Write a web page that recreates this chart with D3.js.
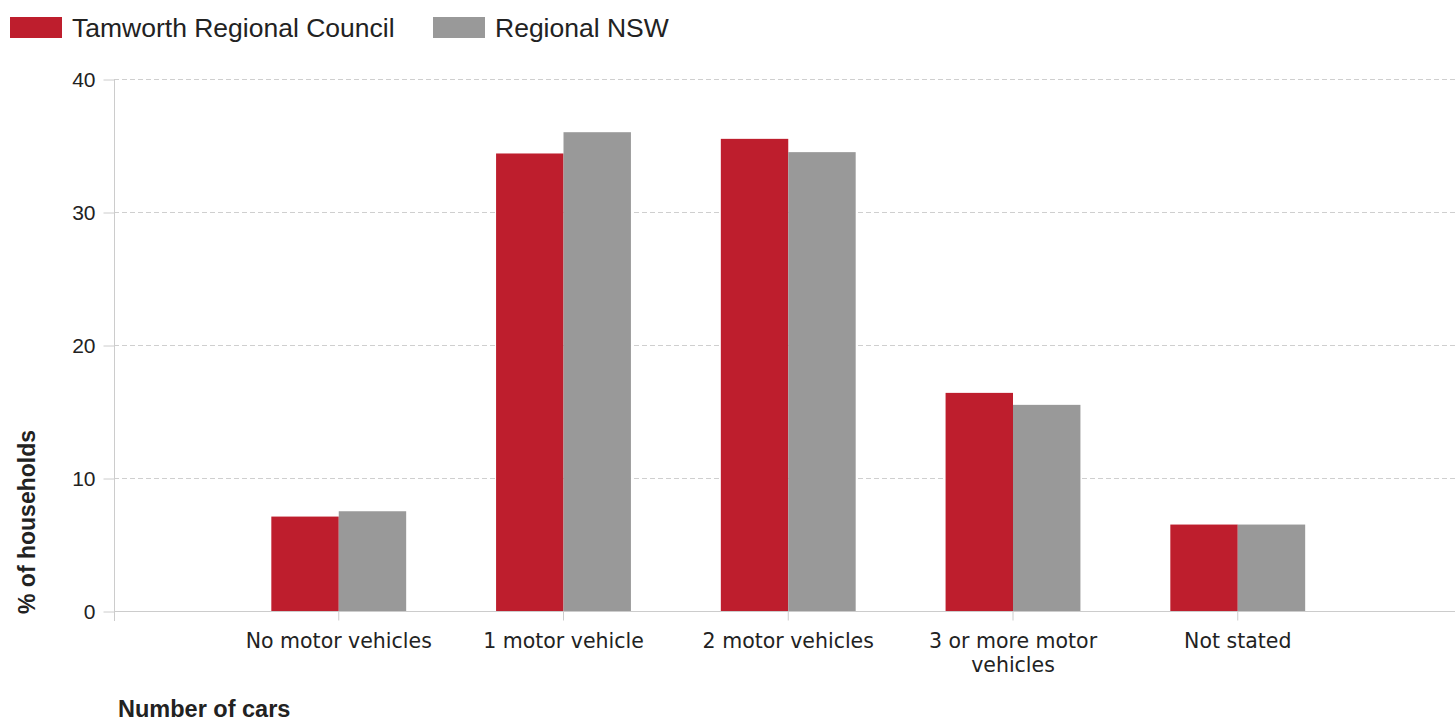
<!DOCTYPE html>
<html lang="en">
<head>
  <meta charset="UTF-8">
  <title>Number of cars per household</title>
  <script src="https://d3js.org/d3.v7.min.js"></script>
  <style>
    body { margin: 0; background: #fff; font-family: "Liberation Sans", Arial, sans-serif; }
    .tick-x text { font-family: "DejaVu Sans", Verdana, sans-serif; font-size: 20.5px; fill: #222; }
    .tick-y text { font-size: 21px; fill: #222; }
    .legend text { font-size: 26.5px; fill: #222; }
    .axis-title { font-weight: bold; fill: #222; }
  </style>
</head>
<body>
  <div id="chart"></div>
  <script>
    // data
    const categories = ["No motor vehicles", "1 motor vehicle", "2 motor vehicles", "3 or more motor vehicles", "Not stated"];
    const seriesNames = ["Tamworth Regional Council", "Regional NSW"];
    const tamworth = [7.1, 34.4, 35.5, 16.4, 6.5];
    const regionalNSW = [7.5, 36.0, 34.5, 15.5, 6.5];
    const yTicks = [0, 10, 20, 30, 40];
    const colors = ["#be1e2d", "#999999"];

    const W = 1455, H = 724;
    const plotLeft = 114, plotTop = 79, plotBottom = 611;
    const step = 224.75;

    const svg = d3.select("#chart").append("svg")
      .attr("width", W)
      .attr("height", H);

    // outer padding keeps one empty step either side of the groups
    const x = d3.scaleBand()
      .domain(categories)
      .range([plotLeft, plotLeft + step * 6])
      .paddingInner(0.4)
      .paddingOuter(0.7);

    const xSub = d3.scaleBand()
      .domain(seriesNames)
      .range([0, x.bandwidth()]);

    const y = d3.scaleLinear()
      .domain([0, 40])
      .range([plotBottom, plotTop]);

    // gridlines
    svg.append("g")
      .selectAll("line")
      .data(yTicks.filter(d => d > 0))
      .enter().append("line")
      .attr("x1", plotLeft)
      .attr("x2", W)
      .attr("y1", d => Math.round(y(d)) + 0.5)
      .attr("y2", d => Math.round(y(d)) + 0.5)
      .attr("stroke", "#cfcfcf")
      .attr("stroke-dasharray", "5,3");

    // y axis
    const yAxis = svg.append("g")
      .attr("class", "tick-y")
      .attr("transform", `translate(${plotLeft + 0.5},0.5)`)
      .call(d3.axisLeft(y).tickValues(yTicks).tickSize(11).tickPadding(8));
    yAxis.select(".domain").remove();
    yAxis.selectAll(".tick line").attr("stroke", "#cccccc");
    svg.append("line")
      .attr("x1", plotLeft + 0.5).attr("x2", plotLeft + 0.5)
      .attr("y1", plotTop).attr("y2", plotBottom + 10)
      .attr("stroke", "#cccccc");

    // bars
    const data = categories.map((c, i) => ({ cat: c, values: [tamworth[i], regionalNSW[i]] }));
    const groups = svg.append("g").selectAll("g")
      .data(data)
      .enter().append("g")
      .attr("transform", d => `translate(${x(d.cat)},0)`);
    groups.selectAll("rect")
      .data(d => d.values.map((v, j) => ({ name: seriesNames[j], v, j })))
      .enter().append("rect")
      .attr("x", d => xSub(d.name))
      .attr("width", xSub.bandwidth())
      .attr("y", d => y(d.v))
      .attr("height", d => y(0) - y(d.v))
      .attr("fill", d => colors[d.j]);

    // x axis
    const xAxis = svg.append("g")
      .attr("class", "tick-x")
      .attr("transform", `translate(0,${plotBottom + 0.5})`)
      .call(d3.axisBottom(x).tickSize(9).tickPadding(13).tickSizeOuter(0));
    xAxis.select(".domain")
      .attr("d", `M${plotLeft},0H${W}`)
      .attr("stroke", "#cccccc");
    xAxis.selectAll(".tick line").attr("stroke", "#cccccc");
    xAxis.selectAll(".tick text").each(function (d) {
      const t = d3.select(this);
      if (d === "3 or more motor vehicles") {
        const yy = t.attr("y");
        t.text(null);
        t.append("tspan").attr("x", 0).attr("y", yy).attr("dy", "0.71em").text("3 or more motor");
        t.append("tspan").attr("x", 0).attr("dy", "1.17em").text("vehicles");
        t.attr("dy", null);
      }
    });

    // axis titles
    svg.append("text")
      .attr("class", "axis-title")
      .attr("font-size", 23)
      .attr("transform", "translate(35,522) rotate(-90)")
      .attr("text-anchor", "middle")
      .text("% of households");
    svg.append("text")
      .attr("class", "axis-title")
      .attr("font-size", 23.5)
      .attr("x", 118)
      .attr("y", 717)
      .text("Number of cars");

    // legend
    const legend = svg.append("g").attr("class", "legend");
    const legendX = [10, 433];
    seriesNames.forEach((name, i) => {
      legend.append("rect")
        .attr("x", legendX[i]).attr("y", 17)
        .attr("width", 52).attr("height", 21)
        .attr("fill", colors[i]);
      legend.append("text")
        .attr("x", legendX[i] + 62).attr("y", 37)
        .text(name);
    });
  </script>
</body>
</html>
